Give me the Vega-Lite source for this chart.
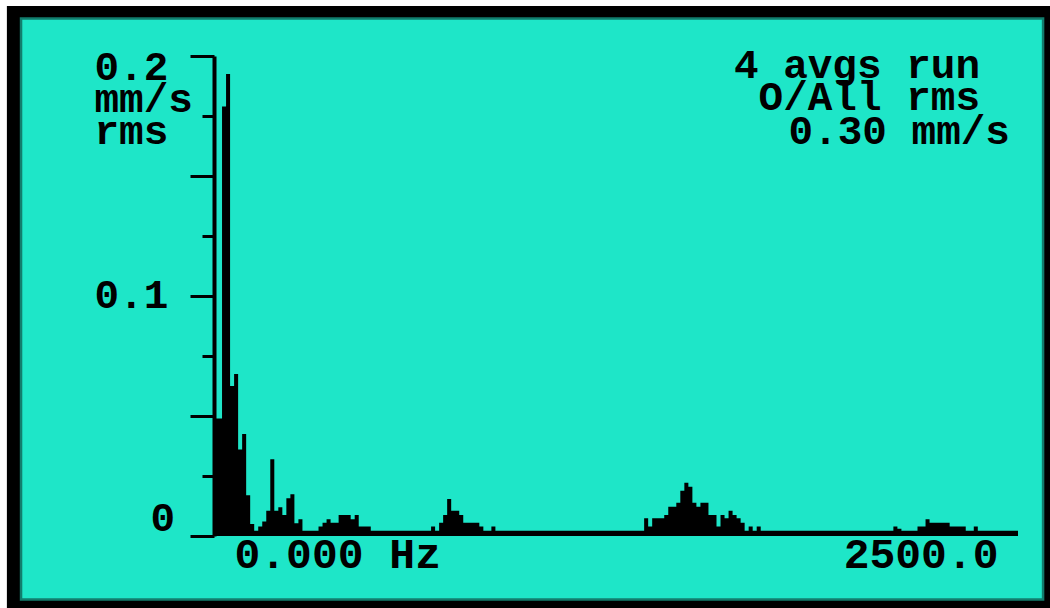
{
  "$schema": "https://vega.github.io/schema/vega-lite/v6.json",
  "width": 804,
  "height": 480,
  "autosize": {"type": "none"},
  "padding": {"left": 214, "top": 56, "right": 32, "bottom": 72},
  "background": "#ffffff",
  "config": {"view": {"stroke": null}},
  "title": {
    "text": ["4 avgs run", "O/All rms"],
    "orient": "top", "anchor": "end", "frame": "group", "align": "right", "baseline": "top",
    "font": "Liberation Mono", "fontWeight": "bold", "fontSize": 41, "lineHeight": 32,
    "color": "#000000", "offset": -110, "dx": -38, "dy": 3, "zindex": 1
  },
  "datasets": {
    "spectrum": [
      {"f":0,"v":0.049},{"f":12.5,"v":0.049},{"f":25,"v":0.179},{"f":37.5,"v":0.1925},{"f":50,"v":0.0625},
      {"f":62.5,"v":0.0675},{"f":75,"v":0.036},{"f":87.5,"v":0.0425},{"f":100,"v":0.017},{"f":112.5,"v":0.005},
      {"f":125,"v":0.0022},{"f":137.5,"v":0.004},{"f":150,"v":0.006},{"f":162.5,"v":0.0105},{"f":175,"v":0.032},
      {"f":187.5,"v":0.0105},{"f":200,"v":0.012},{"f":212.5,"v":0.0088},{"f":225,"v":0.0157},{"f":237.5,"v":0.0174},
      {"f":250,"v":0.0053},{"f":262.5,"v":0.007},{"f":275,"v":0.0022},{"f":287.5,"v":0.0022},{"f":300,"v":0.0022},
      {"f":312.5,"v":0.0022},{"f":325,"v":0.004},{"f":337.5,"v":0.0055},{"f":350,"v":0.007},{"f":362.5,"v":0.0055},
      {"f":375,"v":0.0055},{"f":387.5,"v":0.0088},{"f":400,"v":0.0088},{"f":412.5,"v":0.0088},{"f":425,"v":0.007},
      {"f":437.5,"v":0.0088},{"f":450,"v":0.004},{"f":462.5,"v":0.004},{"f":475,"v":0.004},{"f":487.5,"v":0.0022},
      {"f":500,"v":0.0022},{"f":512.5,"v":0.0022},{"f":525,"v":0.0022},{"f":537.5,"v":0.0022},{"f":550,"v":0.0022},
      {"f":562.5,"v":0.0022},{"f":575,"v":0.0022},{"f":587.5,"v":0.0022},{"f":600,"v":0.0022},{"f":612.5,"v":0.0022},
      {"f":625,"v":0.0022},{"f":637.5,"v":0.0022},{"f":650,"v":0.0022},{"f":662.5,"v":0.0022},{"f":675,"v":0.004},
      {"f":687.5,"v":0.0022},{"f":700,"v":0.0055},{"f":712.5,"v":0.0088},{"f":725,"v":0.0154},{"f":737.5,"v":0.0105},
      {"f":750,"v":0.0105},{"f":762.5,"v":0.0088},{"f":775,"v":0.0055},{"f":787.5,"v":0.0055},{"f":800,"v":0.0055},
      {"f":812.5,"v":0.0055},{"f":825,"v":0.004},{"f":837.5,"v":0.0022},{"f":850,"v":0.0022},{"f":862.5,"v":0.004},
      {"f":875,"v":0.0022},{"f":887.5,"v":0.0022},{"f":900,"v":0.0022},{"f":912.5,"v":0.0022},{"f":925,"v":0.0022},
      {"f":937.5,"v":0.0022},{"f":950,"v":0.0022},{"f":962.5,"v":0.0022},{"f":975,"v":0.0022},{"f":987.5,"v":0.0022},
      {"f":1000,"v":0.0022},{"f":1012.5,"v":0.0022},{"f":1025,"v":0.0022},{"f":1037.5,"v":0.0022},{"f":1050,"v":0.0022},
      {"f":1062.5,"v":0.0022},{"f":1075,"v":0.0022},{"f":1087.5,"v":0.0022},{"f":1100,"v":0.0022},{"f":1112.5,"v":0.0022},
      {"f":1125,"v":0.0022},{"f":1137.5,"v":0.0022},{"f":1150,"v":0.0022},{"f":1162.5,"v":0.0022},{"f":1175,"v":0.0022},
      {"f":1187.5,"v":0.0022},{"f":1200,"v":0.0022},{"f":1212.5,"v":0.0022},{"f":1225,"v":0.0022},{"f":1237.5,"v":0.0022},
      {"f":1250,"v":0.0022},{"f":1262.5,"v":0.0022},{"f":1275,"v":0.0022},{"f":1287.5,"v":0.0022},{"f":1300,"v":0.0022},
      {"f":1312.5,"v":0.0022},{"f":1325,"v":0.0022},{"f":1337.5,"v":0.0074},{"f":1350,"v":0.004},{"f":1362.5,"v":0.0074},
      {"f":1375,"v":0.0074},{"f":1387.5,"v":0.0074},{"f":1400,"v":0.0088},{"f":1412.5,"v":0.0122},{"f":1425,"v":0.0122},
      {"f":1437.5,"v":0.0139},{"f":1450,"v":0.0189},{"f":1462.5,"v":0.0222},{"f":1475,"v":0.0205},{"f":1487.5,"v":0.0139},
      {"f":1500,"v":0.0122},{"f":1512.5,"v":0.0139},{"f":1525,"v":0.0139},{"f":1537.5,"v":0.0088},{"f":1550,"v":0.0088},
      {"f":1562.5,"v":0.004},{"f":1575,"v":0.0088},{"f":1587.5,"v":0.0074},{"f":1600,"v":0.0105},{"f":1612.5,"v":0.0088},
      {"f":1625,"v":0.0074},{"f":1637.5,"v":0.0055},{"f":1650,"v":0.0022},{"f":1662.5,"v":0.004},{"f":1675,"v":0.0022},
      {"f":1687.5,"v":0.004},{"f":1700,"v":0.0022},{"f":1712.5,"v":0.0022},{"f":1725,"v":0.0022},{"f":1737.5,"v":0.0022},
      {"f":1750,"v":0.0022},{"f":1762.5,"v":0.0022},{"f":1775,"v":0.0022},{"f":1787.5,"v":0.0022},{"f":1800,"v":0.0022},
      {"f":1812.5,"v":0.0022},{"f":1825,"v":0.0022},{"f":1837.5,"v":0.0022},{"f":1850,"v":0.0022},{"f":1862.5,"v":0.0022},
      {"f":1875,"v":0.0022},{"f":1887.5,"v":0.0022},{"f":1900,"v":0.0022},{"f":1912.5,"v":0.0022},{"f":1925,"v":0.0022},
      {"f":1937.5,"v":0.0022},{"f":1950,"v":0.0022},{"f":1962.5,"v":0.0022},{"f":1975,"v":0.0022},{"f":1987.5,"v":0.0022},
      {"f":2000,"v":0.0022},{"f":2012.5,"v":0.0022},{"f":2025,"v":0.0022},{"f":2037.5,"v":0.0022},{"f":2050,"v":0.0022},
      {"f":2062.5,"v":0.0022},{"f":2075,"v":0.0022},{"f":2087.5,"v":0.0022},{"f":2100,"v":0.0022},{"f":2112.5,"v":0.004},
      {"f":2125,"v":0.003},{"f":2137.5,"v":0.0022},{"f":2150,"v":0.0022},{"f":2162.5,"v":0.0022},{"f":2175,"v":0.0022},
      {"f":2187.5,"v":0.004},{"f":2200,"v":0.004},{"f":2212.5,"v":0.007},{"f":2225,"v":0.0055},{"f":2237.5,"v":0.0055},
      {"f":2250,"v":0.0055},{"f":2262.5,"v":0.0055},{"f":2275,"v":0.0055},{"f":2287.5,"v":0.004},{"f":2300,"v":0.004},
      {"f":2312.5,"v":0.004},{"f":2325,"v":0.004},{"f":2337.5,"v":0.0022},{"f":2350,"v":0.0022},{"f":2362.5,"v":0.004},
      {"f":2375,"v":0.0022},{"f":2387.5,"v":0.0022},{"f":2400,"v":0.0022},{"f":2412.5,"v":0.0022},{"f":2425,"v":0.0022},
      {"f":2437.5,"v":0.0022},{"f":2450,"v":0.0022},{"f":2462.5,"v":0.0022},{"f":2475,"v":0.0022},{"f":2487.5,"v":0.0022},
      {"f":2500,"v":0.0022}
    ]
  },
  "layer": [
    {
      "data": {"values": [{}]},
      "mark": {"type": "rect", "color": "#000000"},
      "encoding": {
        "x": {"datum": -644, "type": "quantitative", "scale": {"domain": [0, 2500], "nice": false, "zero": false}},
        "x2": {"datum": 2620},
        "y": {"datum": 0.2208, "type": "quantitative", "scale": {"domain": [0, 0.2], "nice": false, "zero": false}},
        "y2": {"datum": -0.031}
      }
    },
    {
      "data": {"values": [{}]},
      "mark": {"type": "rect", "color": "#1ee6c8", "stroke": "#127d6d", "strokeWidth": 2.5},
      "encoding": {
        "x": {"datum": -600, "type": "quantitative"},
        "x2": {"datum": 2578},
        "y": {"datum": 0.2156, "type": "quantitative"},
        "y2": {"datum": -0.0265}
      }
    },
    {
      "data": {"name": "spectrum"},
      "mark": {"type": "area", "interpolate": "step-after", "color": "#000000", "opacity": 1},
      "encoding": {
        "x": {
          "field": "f", "type": "quantitative",
          "scale": {"domain": [0, 2500], "nice": false, "zero": false},
          "axis": {
            "title": null, "values": [0, 2500],
            "labelExpr": "datum.value == 0 ? '0.000 Hz' : '2500.0'",
            "domain": false, "ticks": false, "grid": false, "labelFlush": true, "labelFlushOffset": 0,
            "labelOffset": {"condition": {"test": "datum.value == 0", "value": 20}, "value": -20},
            "labelFont": "Liberation Mono", "labelFontWeight": "bold", "labelFontSize": 43, "labelColor": "#000000",
            "labelBaseline": "top", "labelPadding": -3, "labelOverlap": false, "labelLimit": 0, "zindex": 1
          }
        },
        "y": {
          "field": "v", "type": "quantitative",
          "scale": {"domain": [0, 0.2], "nice": false, "zero": false},
          "axis": {
            "title": null,
            "values": [0, 0.025, 0.05, 0.075, 0.1, 0.125, 0.15, 0.175, 0.2],
            "labelExpr": "datum.value == 0.2 ? ['0.2', 'mm/s', 'rms'] : datum.value == 0.1 ? '0.1' : datum.value == 0 ? '0' : ''",
            "domainColor": "#000000", "domainWidth": 4,
            "tickColor": "#000000", "tickWidth": 3,
            "tickSize": {"condition": {"test": "round(datum.value * 1000) % 50 === 0", "value": 24}, "value": 12},
            "labelFont": "Liberation Mono", "labelFontWeight": "bold", "labelFontSize": 41, "labelColor": "#000000",
            "labelBaseline": "alphabetic", "labelLineHeight": 32, "labelAlign": "left",
            "labelOffset": {"condition": [{"test": "datum.value == 0.2", "value": 23}, {"test": "datum.value == 0", "value": -6}], "value": 11},
            "labelPadding": {"condition": {"test": "datum.value == 0", "value": 40}, "value": 96},
            "labelOverlap": false, "labelBound": false, "labelFlush": false, "labelLimit": 0,
            "grid": false, "zindex": 1
          }
        }
      }
    },
    {
      "data": {"values": [{"text": "0.30 mm/s"}]},
      "mark": {"type": "text", "align": "right", "baseline": "alphabetic", "font": "Liberation Mono", "fontWeight": "bold", "fontSize": 41, "color": "#000000"},
      "encoding": {
        "x": {"datum": 2475, "type": "quantitative"},
        "y": {"datum": 0.1633, "type": "quantitative"},
        "text": {"field": "text"}
      }
    }
  ]
}
